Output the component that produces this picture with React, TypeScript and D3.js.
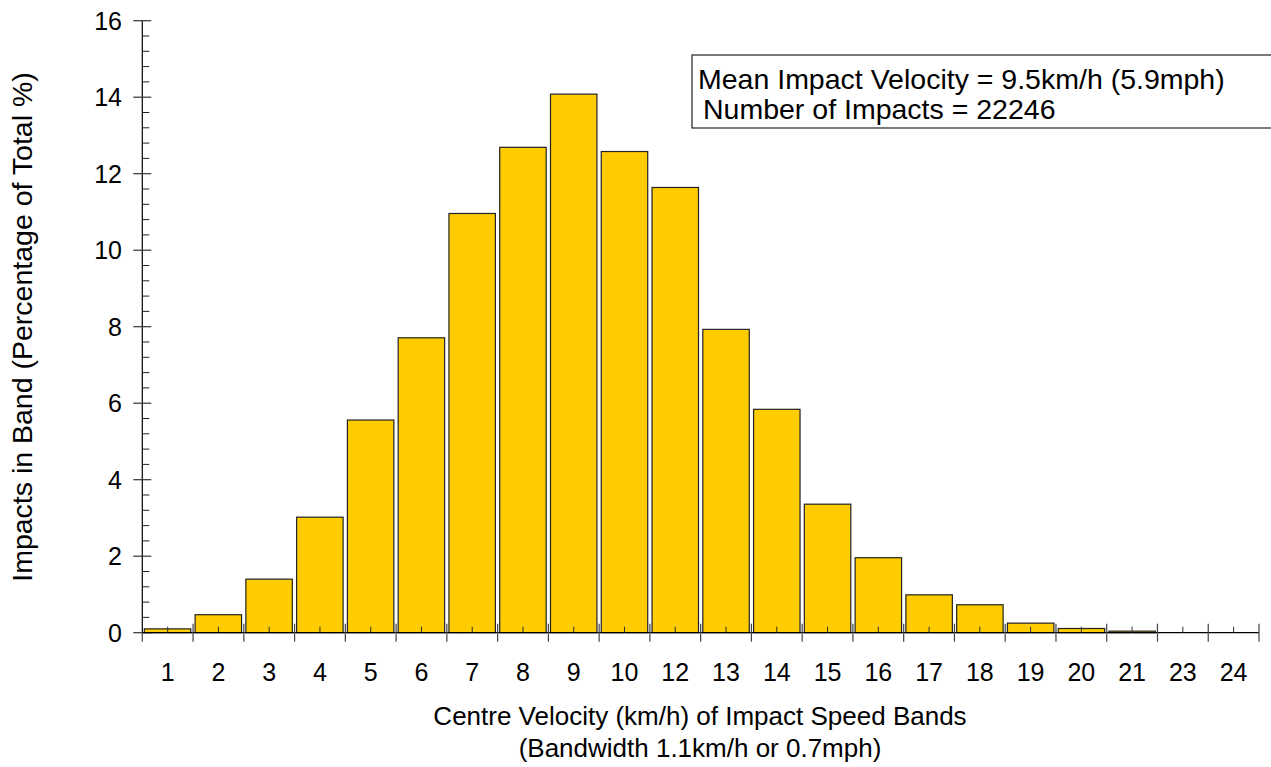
import React from "react";
import * as d3 from "d3";

const bandLabels = ["1","2","3","4","5","6","7","8","9","10","12","13","14","15","16","17","18","19","20","21","23","24"];
const impactsPct = [0.1,0.47,1.4,3.02,5.56,7.71,10.96,12.69,14.08,12.58,11.64,7.93,5.84,3.36,1.96,0.99,0.73,0.25,0.11,0.04,0,0];
const yMajorTicks = [0,2,4,6,8,10,12,14,16];
const legendLines = ["Mean Impact Velocity = 9.5km/h (5.9mph)", "Number of Impacts = 22246"];
const xTitleLines = ["Centre Velocity (km/h) of Impact Speed Bands", "(Bandwidth 1.1km/h or 0.7mph)"];
const yTitle = "Impacts in Band (Percentage of Total %)";

const W = 1271, H = 767;
const FONT = "'Liberation Sans', Arial, Helvetica, sans-serif";

export default function App() {
  const x0 = 142.3, x1 = 1259, y0 = 632.7, y1 = 20.7;
  const x = d3.scaleBand<string>().domain(bandLabels).range([x0, x1]).paddingInner(0.085).paddingOuter(0.04);
  const xb = d3.scaleLinear().domain([0, bandLabels.length]).range([x0, x1]);
  const y = d3.scaleLinear().domain([0, 16]).range([y0, y1]);
  const minorY = d3.range(0, 16.001, 0.4).filter((v) => Math.abs(v / 2 - Math.round(v / 2)) > 1e-6);
  const bw = xb(1) - xb(0);
  return (
    <svg width={W} height={H} style={{ position: "absolute", left: 0, top: 0, background: "#fff" }} fontFamily={FONT}>
      {bandLabels.map((l, i) =>
        impactsPct[i] > 0 ? (
          <rect key={l} x={x(l)} y={y(impactsPct[i])} width={x.bandwidth()} height={y(0) - y(impactsPct[i])}
            fill="#FFCC00" stroke="#222" strokeWidth={1.2} />
        ) : null
      )}
      <line x1={x0} x2={x0} y1={y1} y2={y0} stroke="#000" strokeWidth={1.2} />
      {yMajorTicks.map((t) => (
        <g key={t}>
          <line x1={x0 - 9} x2={x0 + 9} y1={y(t)} y2={y(t)} stroke="#333" strokeWidth={1.2} />
          <text x={122} y={y(t)} dy="0.36em" textAnchor="end" fontSize={25} fill="#000">{t}</text>
        </g>
      ))}
      {minorY.map((t) => (
        <line key={t} x1={x0} x2={x0 + 7} y1={y(t)} y2={y(t)} stroke="#222" strokeWidth={1} />
      ))}
      <line x1={x0} x2={x1} y1={y0} y2={y0} stroke="#000" strokeWidth={1.2} />
      {d3.range(0, bandLabels.length + 1).map((i) => (
        <line key={"b" + i} x1={xb(i)} x2={xb(i)} y1={i === 0 ? y0 : y0 - 9} y2={y0 + 9} stroke="#444" strokeWidth={1.2} />
      ))}
      {bandLabels.map((l, i) => (
        <g key={"m" + l}>
          <line x1={xb(i) + bw / 2} x2={xb(i) + bw / 2} y1={y0 - 6} y2={y0} stroke="#333" strokeWidth={1} />
          <text x={xb(i) + bw / 2} y={681} textAnchor="middle" fontSize={25} fill="#000">{l}</text>
        </g>
      ))}
      <text x={700} y={725} textAnchor="middle" fontSize={26} fill="#000">{xTitleLines[0]}</text>
      <text x={700} y={757} textAnchor="middle" fontSize={26} fill="#000">{xTitleLines[1]}</text>
      <text transform={`translate(32,327) rotate(-90)`} textAnchor="middle" fontSize={28.5} fill="#000">{yTitle}</text>
      <rect x={692} y={55} width={620} height={73} fill="#fff" stroke="#222" strokeWidth={1.2} />
      <text x={698} y={89} fontSize={28.5} fill="#000">{legendLines[0]}</text>
      <text x={703} y={119} fontSize={28.5} fill="#000">{legendLines[1]}</text>
    </svg>
  );
}
